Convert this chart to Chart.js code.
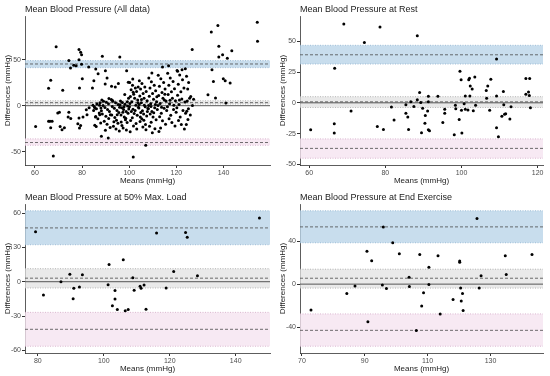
<!DOCTYPE html>
<html>
<head>
<meta charset="utf-8">
<script src="https://cdn.jsdelivr.net/npm/chart.js@4.4.0/dist/chart.umd.min.js"></script>
<style>
  body { margin: 0; background: #fff; }
  #grid { position: relative; width: 550px; height: 376px; }
  canvas { position: absolute; }
</style>
</head>
<body>
<div id="grid">
  <canvas id="c1" width="275" height="188" style="left:0;top:0"></canvas>
  <canvas id="c2" width="275" height="188" style="left:275px;top:0"></canvas>
  <canvas id="c3" width="275" height="188" style="left:0;top:188px"></canvas>
  <canvas id="c4" width="275" height="188" style="left:275px;top:188px"></canvas>
</div>
<script>
// panel titles
const titles = ['Mean Blood Pressure (All data)', 'Mean Blood Pressure at Rest',
  'Mean Blood Pressure at 50% Max. Load', 'Mean Blood Pressure at End Exercise'];

// [mean, difference] pairs
const allData = [
  [60.3,-22.5],[65.8,19],[66.7,27.5],[65.8,-17],[66.4,-17],[67.3,-17],[66.7,-24],[67.8,-54.5],[69,64],[69.7,-8],
  [70.4,-7],[70.7,-22.5],[71.5,-26],[72.5,-24],[71.8,16.7],[74.4,-7.2],[74.1,-12.3],[75.2,-14],[74.4,49],[75.1,41],
  [76.5,44],[77.5,43.5],[78.7,50],[78.7,61],[79.4,58],[79.8,55.4],[79.8,45],[80.1,29.3],[78.9,19.2],[78.2,-19.6],
  [79.4,-21.4],[78.9,-24.3],[78.7,-13.4],[80.4,-12.3],[82.8,42],[82.1,-9.8],[83,-2.2],[81.8,-4.3],[84.4,19.2],[85,27.2],
  [85.8,39.9],[86.8,34.8],[85.4,-2.5],[85.7,-12.3],[86,-22.5],[87.4,0.4],[87.5,-9.8],[88.2,-33.3],[88.6,53.6],[89.9,38],
  [89.8,23.6],[90.6,30],[91.1,-35.1],[92.5,21],[96,53],[98.9,38],[99.6,25.4],[101.5,29],[101.7,-55.8],[107,-43],
  [109.6,35.5],[114.1,42],[116.7,43.5],[120.5,37.3],[122.4,39],[123.8,40],[126.7,61],[133.4,12],[135.1,39],[135.7,26.4],
  [134.8,80],[137.6,87],[138,64.5],[138,53],[136.6,8.3],[141,2.9],[139.6,55.4],[139.9,29.3],[140.7,27.2],[141.6,51.4],
  [142.8,24.6],[143.5,59.8],[154.3,90.6],[154.4,70],
  [84.6,0.5],[85.2,-1.2],[86.1,-3.4],[84.9,-5.1],[87.3,-7.8],[85.8,-11.6],[86.7,-14.2],[87.9,-18.7],[85.4,-21.3],[86.3,1.8],
  [87.6,3.2],[88,-2.5],
  [88.4,6.2],[89.1,4.8],[90.3,3.7],[91.2,2.1],[88.9,0.3],[89.7,-1.9],[90.8,-4.2],[91.6,-6.3],[88.6,-8.9],[90.1,-11.4],
  [91.3,-13.8],[89.4,-16.9],[90.6,-20.2],[91.9,-23.6],[89.9,-26.8],[91.4,7.9],[92,-9.7],[88.2,-5.5],
  [92.4,6.8],[93.1,4.9],[94.2,3.1],[95.3,1.2],[92.8,-0.8],[93.7,-2.9],[94.8,-5.3],[95.6,-7.4],[92.6,-10.2],[93.9,-12.8],
  [94.6,-15.7],[95.2,-19.1],[93.3,-22.4],[94.4,-25.3],[95.8,-27.6],[94.1,20.3],[95.4,24.1],[92.9,5.6],[93.5,-17.3],[95.9,-1.7],
  [94.9,-9.8],
  [96.3,5.2],[97.1,3.4],[98.2,1.6],[99.3,-0.4],[96.8,-2.3],[97.6,-4.1],[98.7,-6.2],[99.5,-8.3],[96.5,-10.1],[97.9,-12.4],
  [98.4,-15.3],[99.1,-18.2],[96.9,-21.4],[97.4,-24.1],[98.8,-26.3],[99.7,8.1],[98.1,12.2],[96.1,0.9],[97.3,-7.2],[99.8,-3.6],
  [98.5,-13.7],[96.6,-17.8],[99.2,4.4],[97.8,-1.1],
  [100.2,25.1],[101.4,22.3],[102.6,19.1],[100.8,17.2],[103.1,15.4],[101.9,12.3],[100.5,10.1],[102.3,8.2],[103.6,6.1],[101.1,4.2],
  [100.3,2.3],[102.8,0.4],[103.9,-1.8],[101.6,-3.9],[100.9,-6.2],[102.1,-8.4],[103.4,-10.3],[101.3,-13.1],[100.6,-16.2],[102.9,-19.4],
  [101.8,-22.1],[103.2,-25.3],[100.4,-28.2],[103.7,3.1],[102.5,-5.1],[100.1,-1.1],[101.7,14.6],[103.8,20.2],
  [104.3,27.2],[105.4,24.1],[106.6,20.3],[104.8,18.1],[107.2,15.3],[105.9,13.2],[104.5,10.4],[106.3,8.1],[107.6,5.3],[105.1,3.1],
  [104.2,1.2],[106.8,-1.2],[107.9,-3.1],[105.6,-5.4],[104.9,-7.3],[106.1,-9.1],[107.4,-11.2],[105.3,-14.1],[104.6,-17.2],[106.9,-20.3],
  [105.8,-23.1],[107.1,-26.2],[104.1,-2.6],[106.4,0.6],[107.7,-6.4],[105.2,6.8],[106.2,-15.7],[104.7,-12.3],
  [108.3,30.2],[109.4,26.1],[110.6,22.3],[108.8,19.2],[111.2,16.1],[109.9,13.3],[108.5,10.2],[110.3,7.1],[111.6,4.3],[109.1,2.2],
  [108.2,0.1],[110.8,-2.1],[111.9,-4.2],[109.6,-6.3],[108.9,-9.1],[110.1,-12.2],[111.4,-15.3],[109.3,-18.1],[108.6,-22.2],[110.9,-25.1],
  [109.8,-29.3],[111.1,1.3],[108.1,-3.4],[110.4,-7.6],[111.7,9.6],[109.2,-0.8],
  [112.3,33.1],[113.4,29.2],[114.6,25.3],[112.8,21.1],[115.2,18.2],[113.9,14.3],[112.5,11.1],[114.3,8.2],[115.6,5.1],[113.1,2.3],
  [112.2,0.2],[114.8,-2.8],[115.9,-5.1],[113.6,-8.2],[112.9,-12.1],[114.1,-16.3],[115.4,-20.2],[113.3,-24.1],[112.6,-28.1],[114.9,6.2],
  [113.7,-1.6],[115.1,12.4],
  [116.3,35.2],[117.4,30.1],[118.6,26.2],[116.8,22.1],[119.2,18.3],[117.9,15.2],[116.5,12.1],[118.3,8.2],[119.6,5.3],[117.1,2.1],
  [116.2,-1.2],[118.8,-4.1],[119.9,-7.2],[117.6,-10.3],[116.9,-14.1],[118.1,-18.2],[119.4,-22.1],[117.3,5.8],[118.9,0.4],
  [120.3,38.1],[121.4,33.2],[122.6,28.1],[120.8,23.2],[123.2,19.1],[121.9,15.2],[120.5,11.3],[122.3,7.2],[123.6,4.1],[121.1,1.2],
  [120.2,-2.1],[122.8,-5.3],[123.9,-8.1],[121.6,-12.2],[120.9,-16.1],[122.1,-20.3],[123.4,-25.2],[121.3,6.3],
  [124.3,32.1],[125.2,25.3],[124.8,18.2],[126.1,10.1],[125.6,8.2],[127.3,7.1],[124.6,5.2],[126.8,0.1],[125.1,-3.2],[124.4,-6.1],
  [125.9,-10.2],[124.9,-15.1],[124.2,-20.3]
];

const restData = [
  [69.1,64],[78.6,61.6],[74.5,49],[88.4,54.4],[66.7,28],[109.2,35.5],[60.4,-21.9],[66.6,-17],[66.6,-24.5],[71,-6.7],
  [77.9,-19.2],[79.5,-21.6],[81.6,-3.5],[82.3,-13.9],[85.4,-8.5],[85.9,-11.5],[86.1,-21.6],[85.4,-1.6],[86.7,0.8],[87.5,-2.9],
  [88.4,2.4],[89,8.3],[89.3,0.3],[89.8,-4.5],[89.5,-24.3],[90.5,-10.4],[90.4,-16.5],[91.1,-6.7],[91.3,5.3],[91.3,0.8],
  [91.3,-21.9],[91.6,-22.7],[93.8,5.3],[95.1,-16],[95.6,-5.3],[95.6,-8.5],[98.1,-25.9],[98.4,-1.9],[98.5,-4.8],[99.4,-13.6],
  [99.6,25.6],[99.9,18.7],[100,-6.1],[100.1,-24.5],[100.7,-0.8],[101,5.6],[101,-5.3],[101.7,-5.9],[101.9,18.7],[102.1,20],
  [102.2,5.6],[102.3,13.6],[102.8,11.2],[103.1,-6.4],[103.5,21],[103.7,-1.9],[106.5,10.1],[106.6,3.7],[106.9,13.6],[107.4,-6.1],
  [107.7,19.2],[109.2,5.6],[109.2,-20.3],[109.7,-27.5],[110.6,-10.9],[111,9.1],[111.1,-1.6],[111.3,-9.3],[111.6,-8.8],[112.7,-13.1],
  [113,-3.2],[116.9,6.9],[116.9,19.7],[117.6,8.8],[117.9,19.7],[117.8,5.9],[118.1,-4]
];

const loadData = [
  [79.3,43.7],[81.7,-11.7],[87,0],[89.7,6.6],[90.7,-14.9],[90.9,-5.7],[92.6,-4.6],[93.5,6],[101.3,-2.6],[101.6,15.1],
  [102.6,-21.1],[103.4,-7.7],[103.4,-15.1],[104.1,-24.3],[105.9,19.1],[106.5,-25.4],[107.4,-24.3],[108.8,3.4],[109.2,-7.4],[111,-4],
  [111.3,-5.7],[112.2,-2.9],[112.8,-24],[116,42.6],[118.9,-5.4],[121.2,8.9],[124.8,42.9],[125.3,38.9],[128.4,5.1],[147.2,55.7]
];

const endData = [
  [72.9,-24],[84.3,-8.6],[86.9,-1.8],[90.7,30.5],[91,-35.1],[92.2,21.8],[95.6,-0.9],[95.9,53.2],[96.9,-4],[98.9,38.5],
  [101,28.3],[104.1,6.5],[104.2,-2.2],[106.4,-43.1],[107.5,27.7],[108.1,-20.3],[108.7,-8],[110.4,15.7],[110.4,-0.3],[113.3,26.5],
  [114,-27.7],[118.1,-14.2],[120.2,21.5],[120.2,20.3],[120.5,-3.7],[120.7,-15.7],[121.1,-8.6],[121.3,-24.6],[125.7,61.2],[126.4,-3.7],
  [127,7.7],[134.7,26.5],[135,8.9],[143.2,27.7]
];

// limits of agreement with confidence bands, each as [lo, mid, hi]: upper LoA, mean bias, lower LoA
const bandsAll  = [[41.3, 45.3, 49], [1.8, 3.3, 5.4], [-43, -40, -36]];
const bandsRest = [[31.5, 39, 46.7], [-3.8, 0.8, 5], [-45, -37, -29.3]];
const bandsLoad = [[32.3, 47, 62], [-5.5, 3.1, 11.4], [-56.4, -41.6, -26.8]];
const bandsEnd  = [[38.5, 53.3, 68.3], [-3.7, 5.5, 13.9], [-57.8, -43, -27.7]];

// tick labels
const xTicksAll = [60, 80, 100, 120, 140];
const yTicksAll = [-50, 0, 50];
const xTicksRest = [60, 80, 100, 120];
const yTicksRest = [-50, -25, 0, 25, 50];
const xTicksLoad = [80, 100, 120, 140];
const yTicksLoad = [-60, -30, 0, 30, 60];
const xTicksEnd = [70, 90, 110, 130];
const yTicksEnd = [-40, 0, 40];

const bandStyle = [
  { fill: 'rgba(186,212,232,0.8)', edge: '#8fb3cf' },
  { fill: 'rgba(225,225,225,0.75)', edge: '#a8a8a8' },
  { fill: 'rgba(245,228,240,0.8)',  edge: '#d3a9c6' }
];

const FONT = "'Liberation Sans', Arial, sans-serif";

const baPlugin = {
  id: 'ba',
  beforeDatasetsDraw(chart, args, opts) {
    const { ctx, chartArea: a, scales: { y } } = chart;
    const hline = (py) => { ctx.beginPath(); ctx.moveTo(a.left, py); ctx.lineTo(a.right, py); ctx.stroke(); };
    ctx.save();
    opts.bands.forEach((b, i) => {
      const st = bandStyle[i];
      const top = y.getPixelForValue(b[2]);
      const bot = y.getPixelForValue(b[0]);
      ctx.fillStyle = st.fill;
      ctx.fillRect(a.left, top, a.right - a.left, bot - top);
      ctx.strokeStyle = st.edge;
      ctx.lineWidth = 0.8;
      ctx.setLineDash([1, 1.5]);
      hline(top); hline(bot);
      ctx.strokeStyle = '#4a4a4a';
      ctx.setLineDash([3, 2]);
      hline(y.getPixelForValue(b[1]));
    });
    ctx.setLineDash([]);
    ctx.strokeStyle = '#555';
    ctx.lineWidth = 1;
    hline(y.getPixelForValue(0));
    ctx.restore();
  },
  afterDraw(chart, args, opts) {
    const { ctx, chartArea: a } = chart;
    ctx.save();
    ctx.font = '9px ' + FONT;
    ctx.fillStyle = '#222';
    ctx.textBaseline = 'middle';
    ctx.fillText(opts.title, a.left, 10);
    ctx.restore();
  }
};

function makePanel(id, title, pts, bands, xr, yr, xt, yt, padRight) {
  new Chart(document.getElementById(id), {
    type: 'scatter',
    data: {
      datasets: [{
        data: pts.map(p => ({ x: p[0], y: p[1] })),
        backgroundColor: '#000',
        borderWidth: 0,
        pointRadius: 1.5
      }]
    },
    options: {
      responsive: false,
      animation: false,
      devicePixelRatio: 1,
      layout: { padding: { top: 16, right: padRight, left: 0, bottom: 0 } },
      plugins: {
        legend: { display: false },
        tooltip: { enabled: false },
        ba: { bands: bands, title: title }
      },
      scales: {
        x: {
          type: 'linear', min: xr[0], max: xr[1],
          afterBuildTicks: s => { s.ticks = xt.map(v => ({ value: v })); },
          afterFit: s => { s.height = 23; },
          grid: { drawOnChartArea: false, drawTicks: true, tickLength: 3, color: '#333' },
          border: { color: '#333', width: 0.8 },
          ticks: { color: '#4d4d4d', font: { family: FONT, size: 7 }, padding: 1, maxRotation: 0 },
          title: { display: true, text: 'Means (mmHg)', color: '#222', font: { family: FONT, size: 8 }, padding: { top: 0, bottom: 2 } }
        },
        y: {
          type: 'linear', min: yr[0], max: yr[1],
          afterBuildTicks: s => { s.ticks = yt.map(v => ({ value: v })); },
          afterFit: s => { s.width = 25; },
          grid: { drawOnChartArea: false, drawTicks: true, tickLength: 3, color: '#333' },
          border: { color: '#333', width: 0.8 },
          ticks: { color: '#4d4d4d', font: { family: FONT, size: 7 }, padding: 1 },
          title: { display: true, text: 'Differences (mmHg)', color: '#222', font: { family: FONT, size: 8 }, padding: { top: 3, bottom: 0 } }
        }
      }
    },
    plugins: [baPlugin]
  });
}

makePanel('c1', titles[0], allData, bandsAll, [55.8, 159.7], [-64.4, 97.4], xTicksAll, yTicksAll, 5);
makePanel('c2', titles[1], restData, bandsRest, [57.6, 121.4], [-50.5, 70.5], xTicksRest, yTicksRest, 7);
makePanel('c3', titles[2], loadData, bandsLoad, [76.1, 150.4], [-62.3, 67.9], xTicksLoad, yTicksLoad, 5);
makePanel('c4', titles[3], endData, bandsEnd, [69.4, 146.7], [-64.1, 74.6], xTicksEnd, yTicksEnd, 7);
</script>
</body>
</html>
